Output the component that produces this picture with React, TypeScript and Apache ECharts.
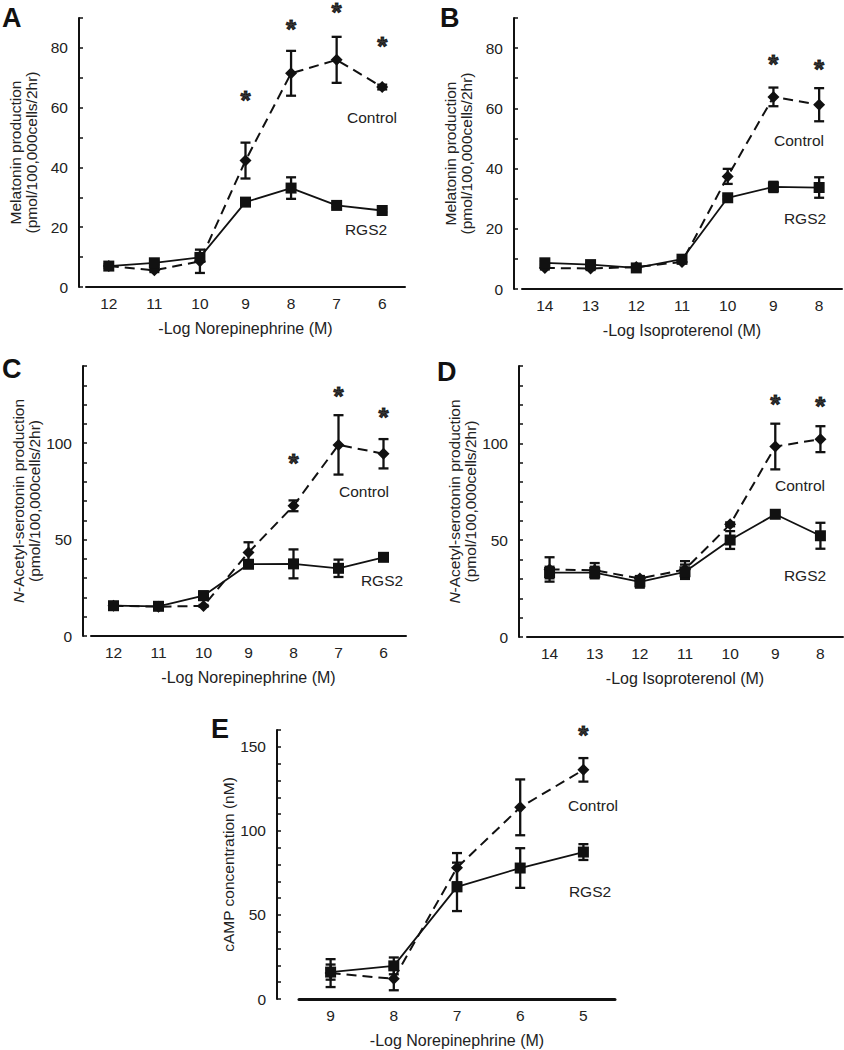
import React, { useEffect, useRef } from 'react';
import * as echarts from 'echarts';

// ---------- categories ----------
const catsNE = ['12', '11', '10', '9', '8', '7', '6'];
const catsISO = ['14', '13', '12', '11', '10', '9', '8'];
const catsE = ['9', '8', '7', '6', '5'];

// ---------- Panel A: melatonin, norepinephrine ----------
const aControl = [7.0, 5.6, 8.6, 42.3, 71.5, 76.0, 66.9];
const aControlErr = [0.6, 0.6, 3.9, 6.0, 7.5, 7.7, 0.8];
const aRgs2 = [7.0, 8.1, 9.9, 28.4, 33.1, 27.3, 25.6];
const aRgs2Err = [0.6, 0.6, 1.0, 1.0, 3.6, 0.6, 0.6];
const aStars = [[3, 64], [4, 87.6], [5, 93.2], [6, 82]];

// ---------- Panel B: melatonin, isoproterenol ----------
const bControl = [7.0, 6.8, 7.3, 9.0, 37.4, 63.8, 61.2];
const bControlErr = [0.5, 0.5, 0.5, 0.5, 2.5, 3.1, 5.5];
const bRgs2 = [8.7, 8.1, 7.0, 9.9, 30.3, 33.9, 33.7];
const bRgs2Err = [0.5, 0.5, 0.5, 0.5, 0.5, 1.7, 3.4];
const bStars = [[5, 76.2], [6, 74.3]];

// ---------- Panel C: NAS, norepinephrine ----------
const cControl = [15.7, 15.2, 15.6, 43.3, 67.5, 99.1, 94.5];
const cControlErr = [0.5, 0.5, 0.5, 5.3, 2.8, 15.4, 7.6];
const cRgs2 = [15.7, 15.4, 20.9, 37.2, 37.4, 35.1, 40.8];
const cRgs2Err = [0.5, 0.5, 2.2, 1.0, 7.5, 4.5, 1.0];
const cStars = [[4, 91.7], [5, 126.5], [6, 115.6]];

// ---------- Panel D: NAS, isoproterenol ----------
const dControl = [34.9, 34.5, 30.2, 34.9, 58.2, 98.4, 102.2];
const dControlErr = [6.3, 3.7, 1.0, 4.3, 1.0, 11.8, 6.7];
const dRgs2 = [33.3, 33.3, 28.5, 33.7, 50.1, 63.4, 52.3];
const dRgs2Err = [3.0, 3.0, 3.0, 3.7, 4.6, 1.0, 6.7];
const dStars = [[5, 122.6], [6, 121.2]];

// ---------- Panel E: cAMP, norepinephrine ----------
const eControl = [15.4, 12.0, 78.1, 114.0, 136.3];
const eControlErr = [8.3, 6.8, 8.7, 16.6, 7.0];
const eRgs2 = [16.0, 19.7, 66.7, 77.9, 87.4];
const eRgs2Err = [4.5, 5.0, 14.4, 11.8, 4.7];
const eStars = [[4, 159.4]];

const FONT = '"Liberation Sans", Arial, Helvetica, sans-serif';
const INK = '#111';
const TXT = '#222';

type Panel = {
  letter: string;
  cats: string[];
  control: number[];
  controlErr: number[];
  rgs2: number[];
  rgs2Err: number[];
  stars: number[][];
  yMax: number;
  yLabelStep: number;
  yName: string;
  xName: string;
  grid: { left: number; top: number; width: number; height: number };
  yOffset: number;
  xLineWidth: number;
  letterPos: [number, number];
  controlPos: [number, number];
  rgs2Pos: [number, number];
};

const NAS_NAME = '{i|N}-Acetyl-serotonin production\n(pmol/100,000cells/2hr)';
const MEL_NAME = 'Melatonin production\n(pmol/100,000cells/2hr)';

const panels: Panel[] = [
  {
    letter: 'A', cats: catsNE, control: aControl, controlErr: aControlErr, rgs2: aRgs2, rgs2Err: aRgs2Err, stars: aStars,
    yMax: 90, yLabelStep: 20, yName: MEL_NAME, xName: '-Log Norepinephrine (M)',
    grid: { left: 86, top: 18, width: 319, height: 269 }, yOffset: 7, xLineWidth: 2,
    letterPos: [2, 17], controlPos: [372, 117], rgs2Pos: [366, 229],
  },
  {
    letter: 'B', cats: catsISO, control: bControl, controlErr: bControlErr, rgs2: bRgs2, rgs2Err: bRgs2Err, stars: bStars,
    yMax: 90, yLabelStep: 20, yName: MEL_NAME, xName: '-Log Isoproterenol (M)',
    grid: { left: 522, top: 18, width: 320, height: 271 }, yOffset: 8, xLineWidth: 2,
    letterPos: [440, 17], controlPos: [799, 140], rgs2Pos: [805, 218],
  },
  {
    letter: 'C', cats: catsNE, control: cControl, controlErr: cControlErr, rgs2: cRgs2, rgs2Err: cRgs2Err, stars: cStars,
    yMax: 140, yLabelStep: 50, yName: NAS_NAME, xName: '-Log Norepinephrine (M)',
    grid: { left: 91, top: 366, width: 315, height: 270 }, yOffset: 8, xLineWidth: 2,
    letterPos: [2, 368], controlPos: [364, 491], rgs2Pos: [382, 580],
  },
  {
    letter: 'D', cats: catsISO, control: dControl, controlErr: dControlErr, rgs2: dRgs2, rgs2Err: dRgs2Err, stars: dStars,
    yMax: 140, yLabelStep: 50, yName: NAS_NAME, xName: '-Log Isoproterenol (M)',
    grid: { left: 527, top: 366, width: 316, height: 271 }, yOffset: 8, xLineWidth: 2,
    letterPos: [437, 371], controlPos: [800, 485], rgs2Pos: [805, 575],
  },
  {
    letter: 'E', cats: catsE, control: eControl, controlErr: eControlErr, rgs2: eRgs2, rgs2Err: eRgs2Err, stars: eStars,
    yMax: 160, yLabelStep: 50, yName: 'cAMP concentration (nM)', xName: '-Log Norepinephrine (M)',
    grid: { left: 299, top: 730, width: 316, height: 269 }, yOffset: 22, xLineWidth: 3,
    letterPos: [211, 728], controlPos: [593, 805], rgs2Pos: [590, 891],
  },
];

function errorBarSeries(values: number[], errs: number[], idx: number) {
  return {
    type: 'custom',
    xAxisIndex: idx,
    yAxisIndex: idx,
    clip: false,
    z: 3,
    encode: { x: 0, y: 1 },
    data: values.map((v, i) => [i, v, errs[i]]),
    renderItem: (_params: any, api: any) => {
      const x = api.value(0);
      const v = api.value(1);
      const e = api.value(2);
      const hi = api.coord([x, v + e]);
      const lo = api.coord([x, v - e]);
      const hw = 5;
      const style = { stroke: INK, lineWidth: 2.3 };
      return {
        type: 'group',
        children: [
          { type: 'line', shape: { x1: hi[0], y1: hi[1], x2: lo[0], y2: lo[1] }, style },
          { type: 'line', shape: { x1: hi[0] - hw, y1: hi[1], x2: hi[0] + hw, y2: hi[1] }, style },
          { type: 'line', shape: { x1: lo[0] - hw, y1: lo[1], x2: lo[0] + hw, y2: lo[1] }, style },
        ],
      };
    },
  };
}

function buildOption() {
  const grid: any[] = [];
  const xAxis: any[] = [];
  const yAxis: any[] = [];
  const series: any[] = [];
  const graphic: any[] = [];

  panels.forEach((p, idx) => {
    grid.push({ ...p.grid, containLabel: false });
    xAxis.push({
      type: 'category',
      gridIndex: idx,
      data: p.cats,
      boundaryGap: true,
      axisLine: { lineStyle: { color: INK, width: p.xLineWidth } },
      axisTick: { alignWithLabel: true, inside: true, length: 4, lineStyle: { color: INK, width: 1.5 } },
      axisLabel: { color: TXT, fontSize: 15.5, fontFamily: FONT, margin: 8 },
      splitLine: { show: false },
      name: p.xName,
      nameLocation: 'middle',
      nameGap: 33,
      nameTextStyle: { color: TXT, fontSize: 16, fontFamily: FONT },
    });
    yAxis.push({
      type: 'value',
      gridIndex: idx,
      min: 0,
      max: p.yMax,
      interval: 10,
      offset: p.yOffset,
      axisLine: { show: true, lineStyle: { color: INK, width: 2 } },
      axisTick: { show: true, inside: true, length: 4, lineStyle: { color: INK, width: 1.5 } },
      axisLabel: {
        color: TXT, fontSize: 15.5, fontFamily: FONT, margin: 11,
        formatter: (v: number) => (v % p.yLabelStep === 0 ? String(v) : ''),
      },
      splitLine: { show: false },
      name: p.yName,
      nameLocation: 'middle',
      nameGap: 40,
      nameTextStyle: {
        color: TXT, fontSize: 15.5, fontFamily: FONT, lineHeight: 16,
        rich: { i: { fontStyle: 'italic', fontSize: 15.5, fontFamily: FONT, color: TXT, lineHeight: 16 } },
      },
    });

    series.push(errorBarSeries(p.control, p.controlErr, idx));
    series.push(errorBarSeries(p.rgs2, p.rgs2Err, idx));
    series.push({
      type: 'line',
      name: 'Control',
      xAxisIndex: idx,
      yAxisIndex: idx,
      data: p.control,
      symbol: 'diamond',
      symbolSize: [12, 12],
      showAllSymbol: true,
      z: 4,
      lineStyle: { color: INK, width: 2, type: [10, 6] },
      itemStyle: { color: INK },
    });
    series.push({
      type: 'line',
      name: 'RGS2',
      xAxisIndex: idx,
      yAxisIndex: idx,
      data: p.rgs2,
      symbol: 'rect',
      symbolSize: 11,
      showAllSymbol: true,
      z: 5,
      lineStyle: { color: INK, width: 1.8, type: 'solid' },
      itemStyle: { color: INK },
    });
    series.push({
      type: 'scatter',
      name: 'significance',
      xAxisIndex: idx,
      yAxisIndex: idx,
      clip: false,
      data: p.stars,
      symbolSize: 1,
      itemStyle: { color: 'rgba(0,0,0,0)' },
      label: {
        show: true,
        position: 'inside',
        formatter: '*',
        fontSize: 26,
        fontWeight: 'bold',
        lineHeight: 14,
        fontFamily: FONT,
        color: '#000',
        textBorderColor: '#000',
        textBorderWidth: 1,
        offset: [0, 4],
      },
      z: 6,
    });

    graphic.push({
      type: 'text',
      left: p.letterPos[0],
      top: p.letterPos[1] - 13,
      style: { text: p.letter, fontSize: 27, fontWeight: 'bold', fontFamily: FONT, fill: INK },
    });
    graphic.push({
      type: 'text',
      x: p.controlPos[0],
      y: p.controlPos[1],
      style: { text: 'Control', fontSize: 15.5, fontFamily: FONT, fill: TXT, align: 'center', verticalAlign: 'middle' },
    });
    graphic.push({
      type: 'text',
      x: p.rgs2Pos[0],
      y: p.rgs2Pos[1],
      style: { text: 'RGS2', fontSize: 15.5, fontFamily: FONT, fill: TXT, align: 'center', verticalAlign: 'middle' },
    });
  });

  return {
    animation: false,
    backgroundColor: '#ffffff',
    textStyle: { fontFamily: FONT },
    grid,
    xAxis,
    yAxis,
    series,
    graphic,
  };
}

export default function App() {
  const ref = useRef<HTMLDivElement>(null);
  useEffect(() => {
    if (!ref.current) return;
    const chart = echarts.init(ref.current, undefined, { renderer: 'svg' });
    chart.setOption(buildOption() as any);
    return () => chart.dispose();
  }, []);
  return (
    <div
      ref={ref}
      style={{ position: 'absolute', left: 0, top: 0, width: 844, height: 1050, background: '#fff' }}
    />
  );
}
